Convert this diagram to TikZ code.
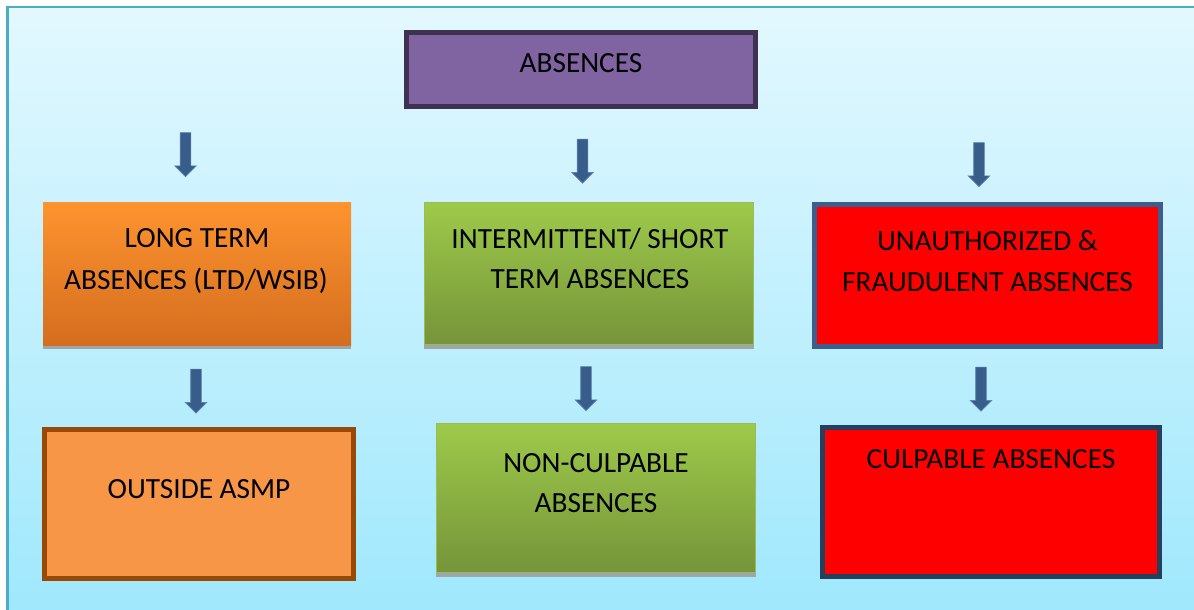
\documentclass[tikz,border=0pt]{standalone}
\usepackage{fontspec}
\setmainfont{Carlito}
\usetikzlibrary{shapes.arrows}
\definecolor{bgtop}{HTML}{E3F8FE}
\definecolor{bgbot}{HTML}{A0E8FD}
\definecolor{bgline}{HTML}{4BACC6}
\definecolor{purplefill}{HTML}{8064A2}
\definecolor{purpleline}{HTML}{3F3151}
\definecolor{orgtop}{HTML}{FE942F}
\definecolor{orgbot}{HTML}{D46D1F}
\definecolor{grntop}{HTML}{9DCA4A}
\definecolor{grnbot}{HTML}{76943A}
\definecolor{grnline}{HTML}{9BBB59}
\definecolor{redline}{HTML}{3B5E8C}
\definecolor{navyline}{HTML}{253F5F}
\definecolor{lightorg}{HTML}{F79646}
\definecolor{brownline}{HTML}{984807}
\definecolor{arrowfill}{HTML}{385D8A}
\definecolor{arrowline}{HTML}{5A82B4}
\definecolor{stripe}{HTML}{9EA6AC}
\tikzset{
  boxnode/.style={rectangle, inner sep=0pt, outer sep=0pt},
  thickbox/.style={boxnode, line width=5pt},
  lbl/.style={anchor=base, inner sep=0pt, font=\fontsize{29.3}{35}\selectfont, text=black},
  blockarrow/.style={single arrow, rotate=-90, fill=arrowfill, draw=arrowline, line width=0.6pt,
    minimum height=44pt, minimum width=0pt, inner xsep=0pt, inner ysep=5pt,
    single arrow head extend=5.5pt, single arrow tip angle=90},
  stripenode/.style={boxnode, fill=stripe}
}
\begin{document}
\begin{tikzpicture}[x=1pt,y=-1pt]
\useasboundingbox (0,0) rectangle (1194,610);
\fill[white] (0,0) rectangle (1194,610);
\shade[top color=bgtop, bottom color=bgbot] (7,7) rectangle (1194,610);
\draw[bgline, line width=2.5pt] (7.25,610) -- (7.25,7.25) -- (1194,7.25);

% top box
\node[thickbox, draw=purpleline, fill=purplefill, minimum width=349pt, minimum height=74pt] (abs) at (581,69.5) {};
\node[lbl] (absT) at (581,73) {ABSENCES};

% row 1
\node[stripenode, minimum width=308pt, minimum height=4pt] (ltS) at (197,347) {};
\node[boxnode, top color=orgtop, bottom color=orgbot, minimum width=308pt, minimum height=143pt] (lt) at (197,273.5) {};
\node[lbl] (ltA) at (197,247) {LONG TERM};
\node[lbl] (ltB) at (196,289) {ABSENCES (LTD/WSIB)};

\node[stripenode, minimum width=330pt, minimum height=4pt] (midS) at (589,347) {};
\node[boxnode, top color=grntop, bottom color=grnbot, draw=grnline, line width=1.2pt, minimum width=329pt, minimum height=142pt] (mid) at (589,273.5) {};
\node[lbl] (midA) at (590,248) {INTERMITTENT/ SHORT};
\node[lbl] (midB) at (590,288) {TERM ABSENCES};

\node[thickbox, draw=redline, fill=red, minimum width=346pt, minimum height=142pt] (un) at (987.5,275.5) {};
\node[lbl] (unA) at (987.5,250) {UNAUTHORIZED \&};
\node[lbl] (unB) at (987.5,291) {FRAUDULENT ABSENCES};

% row 2
\node[thickbox, draw=brownline, fill=lightorg, minimum width=309pt, minimum height=149pt] (out) at (199,504) {};
\node[lbl] (outT) at (199,498) {OUTSIDE ASMP};

\node[stripenode, minimum width=320pt, minimum height=4pt] (ncS) at (596,575) {};
\node[boxnode, top color=grntop, bottom color=grnbot, draw=grnline, line width=1.2pt, minimum width=319pt, minimum height=149pt] (nc) at (596,498) {};
\node[lbl] (ncA) at (596,472) {NON-CULPABLE};
\node[lbl] (ncB) at (596,512) {ABSENCES};

\node[thickbox, draw=navyline, fill=red, minimum width=337pt, minimum height=149pt] (cul) at (991,502) {};
\node[lbl] (culT) at (991,468) {CULPABLE ABSENCES};

% block arrows
\node[blockarrow] (a1) at (185.5,152) {};
\node[blockarrow] (a2) at (582.5,158.5) {};
\node[blockarrow] (a3) at (979,162) {};
\node[blockarrow] (b1) at (196,388.5) {};
\node[blockarrow] (b2) at (586,386) {};
\node[blockarrow] (b3) at (981,386.5) {};
\end{tikzpicture}
\end{document}
